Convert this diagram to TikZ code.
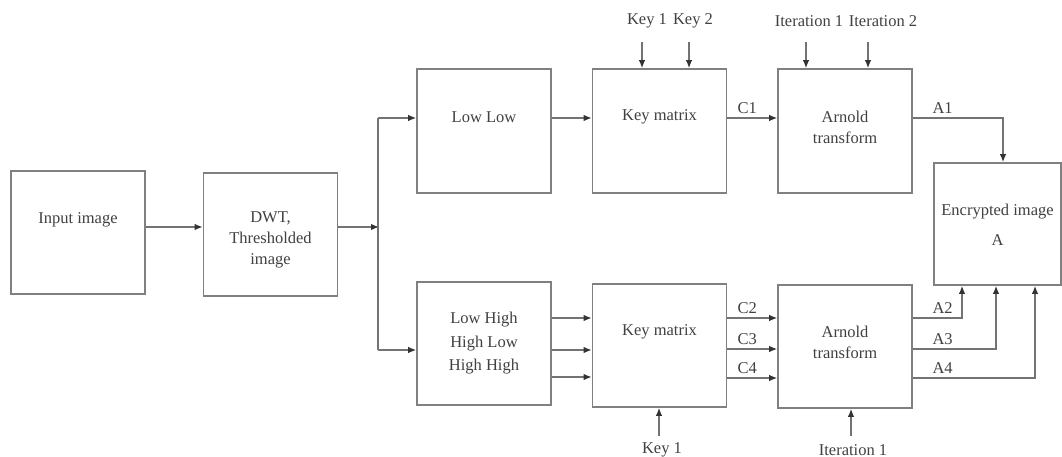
\documentclass[tikz,border=0pt]{standalone}
\usepackage{fontspec}
\setmainfont{Liberation Serif}
\usetikzlibrary{arrows.meta,positioning}
\tikzset{
 blk/.style={draw=black!50,line width=1.6pt,minimum width=134pt,minimum height=123pt,inner sep=0pt},
 txt/.style={text=black!75,font=\fontsize{16.5}{21}\selectfont,align=center,inner sep=1pt},
 arr/.style={draw=black!55,line width=1.4pt,-{Latex[length=8pt,width=6.5pt,black!80]}},
 ln/.style={draw=black!55,line width=1.4pt},
}
\begin{document}
\begin{tikzpicture}[x=1pt,y=-1pt]
 \useasboundingbox (0,0) rectangle (1062,457);
 % blocks
 \node[blk] (in) at (78,232.5) {};
 \node[blk] (dwt) at (270.5,234.5) {};
 \node[blk,minimum height=124pt] (ll) at (484,131) {};
 \node[blk,minimum height=124pt] (kmu) at (659.5,131) {};
 \node[blk,minimum height=124pt] (aru) at (845,131) {};
 \node[blk] (lh) at (484,343.5) {};
 \node[blk] (kml) at (659.5,345.5) {};
 \node[blk] (arl) at (845,346.5) {};
 \node[blk,minimum width=127pt,minimum height=122pt] (enc) at (997.5,224) {};
 % block texts
 \node[txt] at (78,220) {Input image};
 \node[txt] at (270.5,240) {DWT,\\Thresholded\\image};
 \node[txt] at (484,117) {Low Low};
 \node[txt] at (659.5,117) {Key matrix};
 \node[txt] at (845,127) {Arnold\\transform};
 \node[txt,font=\fontsize{16.5}{23.5}\selectfont] at (484,343.5) {Low High\\High Low\\High High};
 \node[txt] at (659.5,332) {Key matrix};
 \node[txt] at (845,342) {Arnold\\transform};
 \node[txt] at (997.5,225) {Encrypted image\\[9pt]A};
 % keys and iterations
 \node[txt] (k1) at (647,21) {Key 1};
 \node[txt] (k2) at (693,21) {Key 2};
 \node[txt] (i1) at (809,21) {Iteration 1};
 \node[txt] (i2) at (883,21) {Iteration 2};
 \node[txt] (k3) at (662,450) {Key 1};
 \node[txt] (i3) at (853,450) {Iteration 1};
 \draw[arr] (642,42) -- (kmu.north -| 642,0);
 \draw[arr] (689,42) -- (kmu.north -| 689,0);
 \draw[arr] (806,42) -- (aru.north -| 806,0);
 \draw[arr] (868,42) -- (aru.north -| 868,0);
 \draw[arr] (659,436) -- (kml.south -| 659,0);
 \draw[arr] (851,436) -- (arl.south -| 851,0);
 % main flow
 \draw[arr] (in.east |- 0,227) -- (dwt.west |- 0,227);
 \draw[arr] (dwt.east |- 0,227) -- (379,227);
 \draw[ln] (378,118) -- (378,350);
 \draw[arr] (378,118) -- (ll.west |- 0,118);
 \draw[arr] (378,350) -- (lh.west |- 0,350);
 \draw[arr] (ll.east |- 0,118) -- (kmu.west |- 0,118);
 \draw[arr] (kmu.east |- 0,118) -- (aru.west |- 0,118) node[txt,pos=.4,above=3pt] {C1};
 \draw[arr] (aru.east |- 0,118) node[txt,above right=3pt and 18pt] {A1} -| ([xshift=5.5pt]enc.north);
 \foreach \y in {318,350,377}
  \draw[arr] (lh.east |- 0,\y) -- (kml.west |- 0,\y);
 \foreach \y/\c in {318/C2,349/C3,378/C4}
  \draw[arr] (kml.east |- 0,\y) -- (arl.west |- 0,\y) node[txt,pos=.4,above=3pt] {\c};
 \foreach \y/\x/\a in {318/962/A2,349/996/A3,378/1035/A4}
  \draw[arr] (arl.east |- 0,\y) node[txt,above right=3pt and 18pt] {\a} -| (enc.south -| \x,0);
\end{tikzpicture}
\end{document}
